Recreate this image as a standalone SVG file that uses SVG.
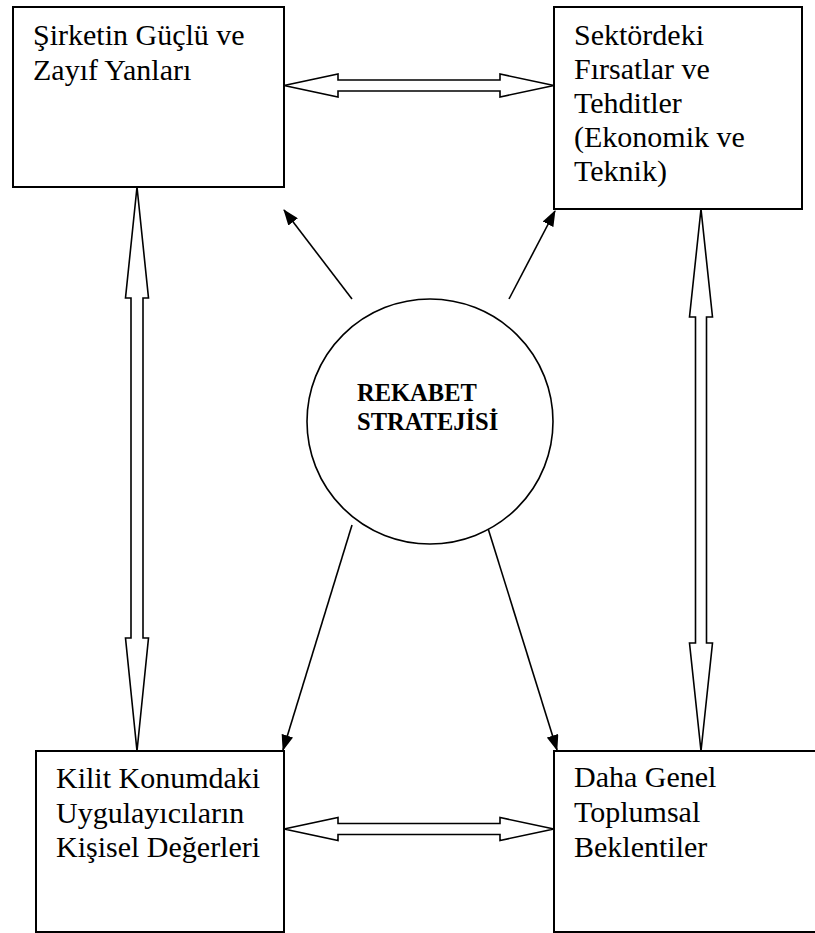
<svg xmlns="http://www.w3.org/2000/svg" width="815" height="933" viewBox="0 0 815 933">
<style>
.box{fill:#fff;stroke:#000;stroke-width:2}
.t{font-family:"Liberation Serif","Times New Roman",serif;font-size:30px;fill:#000}
.tb{font-family:"Liberation Serif","Times New Roman",serif;font-size:24.5px;font-weight:bold;fill:#000}
.blk{fill:#fff;stroke:#000;stroke-width:1.6;stroke-linejoin:miter}
.ln{stroke:#000;stroke-width:1.6;fill:none;marker-end:url(#ah)}
</style>
<defs>
<marker id="ah" markerUnits="userSpaceOnUse" markerWidth="16" markerHeight="12" refX="15" refY="6" orient="auto">
<path d="M0,0 L16,6 L0,12 z" fill="#000"/>
</marker>
</defs>
<rect width="815" height="933" fill="#fff"/>
<g id="connectors">
<polygon class="blk" points="284,85.5 338,74 338,80 500,80 500,74 554,85.5 500,97 500,91 338,91 338,97"/>
<polygon class="blk" points="284,829 338,817.5 338,823.5 500,823.5 500,817.5 554,829 500,840.5 500,834.5 338,834.5 338,840.5"/>
<polygon class="blk" points="137,187 148.5,298 143,298 143,638 148.5,638 137,751 125.5,638 131,638 131,298 125.5,298"/>
<polygon class="blk" points="701,209 712.5,317 706.5,317 706.5,643 712.5,643 701,751 689.5,643 695.5,643 695.5,317 689.5,317"/>
<line class="ln" x1="352" y1="299" x2="284" y2="210"/>
<line class="ln" x1="509" y1="299" x2="555" y2="211"/>
<line class="ln" x1="352" y1="525" x2="283" y2="750"/>
<line class="ln" x1="487" y1="525" x2="557" y2="750"/>
</g>
<g id="n1">
<rect class="box" x="13" y="7" width="271" height="180"/>
<text class="t" x="33" y="45">Şirketin Güçlü ve</text>
<text class="t" x="33" y="80">Zayıf Yanları</text>
</g>
<g id="n2">
<rect class="box" x="554" y="7" width="248" height="202"/>
<text class="t" x="574" y="45">Sektördeki</text>
<text class="t" x="574" y="79">Fırsatlar ve</text>
<text class="t" x="574" y="113">Tehditler</text>
<text class="t" x="574" y="147">(Ekonomik ve</text>
<text class="t" x="574" y="181">Teknik)</text>
</g>
<g id="n3">
<ellipse cx="430" cy="421.5" rx="123" ry="122.5" fill="#fff" stroke="#000" stroke-width="1.6"/>
<text class="tb" x="357" y="401">REKABET</text>
<text class="tb" x="357" y="430">STRATEJİSİ</text>
</g>
<g id="n4">
<rect class="box" x="36" y="751" width="248" height="181"/>
<text class="t" x="56" y="788">Kilit Konumdaki</text>
<text class="t" x="56" y="823">Uygulayıcıların</text>
<text class="t" x="56" y="857">Kişisel Değerleri</text>
</g>
<g id="n5">
<rect class="box" x="554" y="751" width="270" height="181"/>
<text class="t" x="574" y="787">Daha Genel</text>
<text class="t" x="574" y="822">Toplumsal</text>
<text class="t" x="574" y="857">Beklentiler</text>
</g>
</svg>
